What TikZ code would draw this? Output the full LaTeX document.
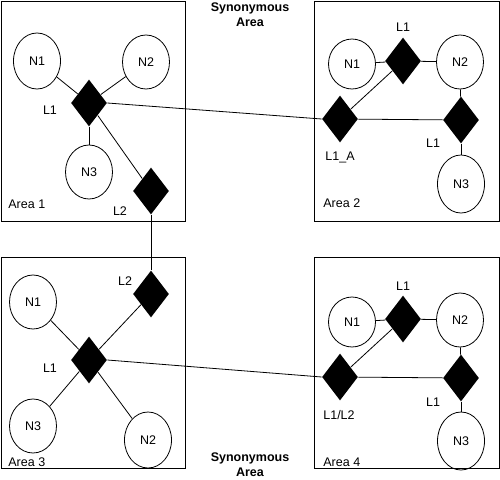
\documentclass[tikz,border=0pt]{standalone}
\usepackage{fontspec}
\setmainfont{Liberation Sans}
\usepackage{tikz}
\usetikzlibrary{shapes.geometric,positioning}

\begin{document}
\begin{tikzpicture}[x=1pt,y=-1pt,line width=0.8pt,
    font=\fontsize{12.5}{15}\selectfont,
    host/.style={draw,ellipse,inner sep=0pt,minimum width=47pt,minimum height=54pt},
    link/.style={diamond,fill=black,inner sep=0pt,minimum width=36pt,minimum height=47pt},
    tag/.style={inner sep=0pt},
    syn/.style={align=center,font=\fontsize{12.5}{15}\selectfont\bfseries}]
  \useasboundingbox (0,0) rectangle (500,479);

  % area boxes
  \draw (1,1) rectangle (185,221);
  \draw (314,1) rectangle (499,221);
  \draw (1,257) rectangle (185,468);
  \draw (314,257) rectangle (499,468);
  \node[tag,anchor=west] (a1t) at (8,204) {Area 1};
  \node[tag,anchor=west] (a2t) at (323,203) {Area 2};
  \node[tag,anchor=west] (a3t) at (8,462) {Area 3};
  \node[tag,anchor=west] (a4t) at (323,462) {Area 4};

  % synonymous area
  \node[syn] (syntop) at (250,15) {Synonymous\\Area};
  \node[syn] (synbot) at (250,465) {Synonymous\\Area};

  % area 1
  \node[host,minimum height=56pt] (a1n1) at (37,61) {N1};
  \node[host] (a1n2) at (146,62) {N2};
  \node[host] (a1n3) at (89,172) {N3};
  \node[link] (a1l1) at (89,103) {};
  \node[link] (a1l2) at (151,191) {};
  \node[tag] (a1l1t) at (50,110) {L1};
  \node[tag] (a1l2t) at (120,211) {L2};

  % area 2
  \node[host,minimum height=50pt] (a2n1) at (352,64) {N1};
  \node[host] (a2n2) at (460,62) {N2};
  \node[host,minimum height=58pt] (a2n3) at (461,184) {N3};
  \node[link] (a2l1) at (403,61) {};
  \node[link] (a2la) at (340,119) {};
  \node[link] (a2lb) at (461,120) {};
  \node[tag] (a2l1t) at (403,27) {L1};
  \node[tag] (a2lbt) at (433,143) {L1};
  \node[tag] (a2lat) at (340,157) {L1\_A};

  % area 3
  \node[host] (a3n1) at (33,302) {N1};
  \node[host] (a3n3) at (33,426) {N3};
  \node[host,minimum height=56pt] (a3n2) at (148,440) {N2};
  \node[link] (a3l1) at (89,360) {};
  \node[link] (a3l2) at (151,294) {};
  \node[tag] (a3l1t) at (50,368) {L1};
  \node[tag] (a3l2t) at (125,281) {L2};

  % area 4
  \node[host,minimum height=50pt] (a4n1) at (352,322) {N1};
  \node[host] (a4n2) at (460,320) {N2};
  \node[host,minimum height=58pt] (a4n3) at (461,441) {N3};
  \node[link] (a4l1) at (403,319) {};
  \node[link] (a4la) at (340,377) {};
  \node[link] (a4lb) at (461,378) {};
  \node[tag] (a4l1t) at (403,286) {L1};
  \node[tag] (a4lbt) at (433,402) {L1};
  \node[tag] (a4lat) at (339,415) {L1/L2};

  % links inside areas
  \draw (a1n1) -- (a1l1);
  \draw (a1n2) -- (a1l1);
  \draw (a1l1) -- (a1n3);
  \draw (a1l1) -- (a1l2);
  \draw (a2n1) -- (a2l1);
  \draw (a2l1) -- (a2n2);
  \draw (a2la) -- (a2l1);
  \draw (a2la) -- (a2lb);
  \draw (a2n2) -- (a2lb);
  \draw (a2lb) -- (a2n3);
  \draw (a3n1) -- (a3l1);
  \draw (a3l1) -- (a3l2);
  \draw (a3l1) -- (a3n3);
  \draw (a3l1) -- (a3n2);
  \draw (a4n1) -- (a4l1);
  \draw (a4l1) -- (a4n2);
  \draw (a4la) -- (a4l1);
  \draw (a4la) -- (a4lb);
  \draw (a4n2) -- (a4lb);
  \draw (a4lb) -- (a4n3);

  % links between areas
  \draw (a1l1.east) -- (a2la.west);
  \draw (a1l2.south) -- (a3l2.north);
  \draw (a3l1.east) -- (a4la.west);
\end{tikzpicture}
\end{document}
